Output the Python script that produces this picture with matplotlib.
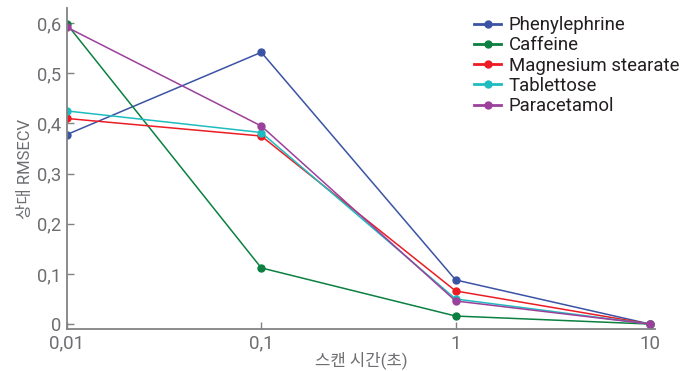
import matplotlib
matplotlib.use("Agg")
import matplotlib.pyplot as plt
from matplotlib.ticker import FuncFormatter, FixedLocator, NullLocator

plt.rcParams['font.family'] = ['Roboto', 'Noto Sans CJK KR', 'DejaVu Sans']

# 스캔 시간 (초)
scan_times = [0.01, 0.1, 1, 10]

phenylephrine = [0.378, 0.542, 0.088, 0.0]
caffeine = [0.598, 0.112, 0.016, 0.0]
magnesium_stearate = [0.410, 0.375, 0.066, 0.0]
tablettose = [0.425, 0.382, 0.050, 0.0]
paracetamol = [0.592, 0.395, 0.046, 0.0]

series_names = ["Phenylephrine", "Caffeine", "Magnesium stearate", "Tablettose", "Paracetamol"]
series_values = [phenylephrine, caffeine, magnesium_stearate, tablettose, paracetamol]
series_colors = ["#3a53a4", "#0b8040", "#ec1c24", "#1fbcbf", "#9c409b"]

x_ticks = [0.01, 0.1, 1, 10]
x_tick_labels = ["0,01", "0,1", "1", "10"]
y_ticks = [0, 0.1, 0.2, 0.3, 0.4, 0.5, 0.6]

grey = "#6d6e71"

fig = plt.figure(figsize=(6.97, 3.71), dpi=100)
ax = fig.add_axes([0.096, 0.113, 0.8436, 0.865])

for name, vals, col in zip(series_names, series_values, series_colors):
    ax.plot(scan_times, vals, color=col, lw=1.1, marker='o', markersize=5, label=name)

ax.set_xscale('log')
ax.set_xlim(0.01, 10.6)
ax.set_ylim(-0.01, 0.63)

ax.xaxis.set_major_locator(FixedLocator(x_ticks))
ax.xaxis.set_minor_locator(NullLocator())
ax.set_xticklabels(x_tick_labels)
ax.set_yticks(y_ticks)
ax.yaxis.set_major_formatter(FuncFormatter(lambda v, p: ("%g" % v).replace('.', ',')))

for s in ['top', 'right']:
    ax.spines[s].set_visible(False)
for s in ['left', 'bottom']:
    ax.spines[s].set_color("#808285")
    ax.spines[s].set_linewidth(1.3)

ax.tick_params(axis='both', direction='in', length=5, width=1, color="#808285",
               labelcolor=grey, labelsize=13.5, pad=4)
ax.tick_params(axis='x', pad=4)
ax.tick_params(axis='y', labelsize=13.2)

ax.set_xlabel("스캔 시간(초)", color=grey, fontsize=12, labelpad=-1)
ax.set_ylabel("상대 RMSECV", color=grey, fontsize=12, labelpad=3)

leg = ax.legend(loc='upper right', bbox_to_anchor=(1.06, 1.01), frameon=False, fontsize=13.4,
                handlelength=1.45, handletextpad=0.4, labelspacing=0.12, borderaxespad=0.2)
for line in leg.get_lines():
    line.set_linewidth(2)
for t in leg.get_texts():
    t.set_color("#231f20")

fig.savefig("out.png", dpi=100)
